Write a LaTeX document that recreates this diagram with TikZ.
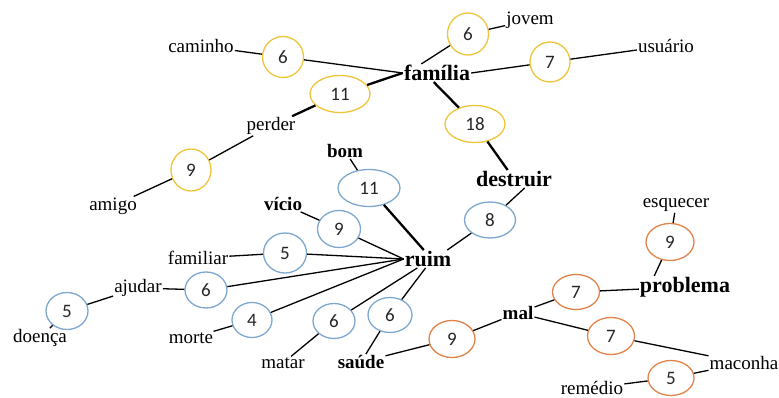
\documentclass[tikz,border=0pt]{standalone}
\usepackage{fontspec}
\setmainfont{Liberation Serif}
\newfontfamily\numfont{Carlito}
\usetikzlibrary{shapes.geometric}
\definecolor{cyel}{HTML}{F0C43A}
\definecolor{cblu}{HTML}{7DA7CF}
\definecolor{corg}{HTML}{E2844A}
\tikzset{
  ov/.style={ellipse, draw, line width=1.3pt, inner sep=0pt, font=\numfont\fontsize{19}{19}\selectfont, text=black!85},
  yov/.style={ov, draw=cyel},
  bov/.style={ov, draw=cblu},
  oov/.style={ov, draw=corg},
  lbl/.style={inner sep=1pt, font=\fontsize{19}{19}\selectfont},
  blbl/.style={inner sep=1pt, font=\bfseries\fontsize{19}{19}\selectfont},
  hlbl/.style={inner sep=1pt, font=\bfseries\fontsize{22}{22}\selectfont},
  ln/.style={line width=1.3pt},
  tk/.style={line width=2.3pt},
}
\begin{document}
\begin{tikzpicture}[x=1pt,y=-1pt]
\useasboundingbox (0,0) rectangle (779,398);
% labels
\node[lbl] (caminho) at (201,46) {caminho};
\node[hlbl] (fam) at (437,73) {família};
\node[lbl] (jovem) at (530,20) {jovem};
\node[lbl] (usuario) at (666,46) {usuário};
\node[lbl] (perder) at (271,126) {perder};
\node[lbl] (amigo) at (113,206) {amigo};
\node[blbl] (bom) at (345,151) {bom};
\node[blbl] (vicio) at (283,204) {vício};
\node[hlbl] (destr) at (514,179) {destruir};
\node[hlbl] (ruim) at (428,259) {ruim};
\node[lbl] (familiar) at (198,258) {familiar};
\node[lbl] (ajudar) at (138,288) {ajudar};
\node[lbl] (doenca) at (40,338) {doença};
\node[lbl] (morte) at (191,338) {morte};
\node[lbl] (matar) at (283,363) {matar};
\node[blbl] (saude) at (361,362) {saúde};
\node[blbl] (mal) at (518,313) {mal};
\node[hlbl] (prob) at (685,287) {problema};
\node[lbl] (esq) at (676,205) {esquecer};
\node[lbl] (macon) at (744,363) {maconha};
\node[lbl] (remed) at (592,388) {remédio};
% yellow ellipses
\node[yov, minimum width=41pt, minimum height=41pt] (y6a) at (283,57) {6};
\node[yov, minimum width=60pt, minimum height=37pt] (y11) at (340,94) {11};
\node[yov, minimum width=41pt, minimum height=42pt] (y6b) at (468,34) {6};
\node[yov, minimum width=40pt, minimum height=40pt] (y7) at (550,62) {7};
\node[yov, minimum width=60pt, minimum height=37pt] (y18) at (475,124) {18};
\node[yov, minimum width=40pt, minimum height=42pt] (y9) at (191,170) {9};
% blue ellipses
\node[bov, minimum width=62pt, minimum height=37pt] (b11) at (369,188) {11};
\node[bov, minimum width=43pt, minimum height=37pt] (b9) at (339,229) {9};
\node[bov, minimum width=43pt, minimum height=40pt] (b5a) at (285,253) {5};
\node[bov, minimum width=42pt, minimum height=36pt] (b6a) at (206,290) {6};
\node[bov, minimum width=42pt, minimum height=37pt] (b5d) at (67,311) {5};
\node[bov, minimum width=40pt, minimum height=35pt] (b4) at (252,320) {4};
\node[bov, minimum width=42pt, minimum height=35pt] (b6m) at (334,321) {6};
\node[bov, minimum width=44pt, minimum height=35pt] (b6s) at (390,315) {6};
\node[bov, minimum width=51pt, minimum height=36pt] (b8) at (490,220) {8};
% orange ellipses
\node[oov, minimum width=46pt, minimum height=37pt] (o9a) at (452,339) {9};
\node[oov, minimum width=47pt, minimum height=35pt] (o7a) at (576,292) {7};
\node[oov, minimum width=48pt, minimum height=37pt] (o9e) at (670,242) {9};
\node[oov, minimum width=47pt, minimum height=37pt] (o7m) at (611,336) {7};
\node[oov, minimum width=46pt, minimum height=35pt] (o5r) at (671,378) {5};
% connectors: família cluster
\draw[ln] (caminho) -- (y6a);
\draw[ln] (y6a) -- (fam.west);
\draw[tk] (y11) -- (fam.west);
\draw[tk] (perder) -- (y11);
\draw[ln] (perder) -- (y9);
\draw[ln] (y9) -- (amigo);
\draw[ln] (fam.150) -- (y6b);
\draw[ln] (y6b) -- (jovem);
\draw[ln] (fam.east) -- (y7);
\draw[ln] (y7) -- (usuario);
\draw[tk] (fam.-110) -- (y18);
\draw[tk] (y18) -- (destr);
% ruim cluster
\draw[ln] (destr.-40) -- (b8);
\draw[ln] (b8) -- (ruim.25);
\draw[ln] (bom) -- (b11);
\draw[tk] (b11) -- (ruim.115);
\draw[ln] (vicio) -- (b9);
\draw[ln] (b9) -- (ruim.west);
\draw[ln] (familiar) -- (b5a);
\draw[ln] (b5a) -- (ruim.west);
\draw[ln] (b6a) -- (ruim.west);
\draw[ln] (ajudar) -- (b6a);
\draw[ln] (ajudar) -- (b5d);
\draw[ln] (b5d) -- (doenca);
\draw[ln] (morte) -- (b4);
\draw[ln] (b4) -- (ruim.west);
\draw[ln] (b6m) -- (ruim.-140);
\draw[ln] (matar) -- (b6m);
\draw[ln] (b6s) -- (ruim.-105);
\draw[ln] (saude) -- (b6s);
% mal / problema cluster
\draw[ln] (saude) -- (o9a);
\draw[ln] (o9a) -- (mal);
\draw[ln] (mal) -- (o7a);
\draw[ln] (o7a) -- (prob);
\draw[ln] (prob.160) -- (o9e);
\draw[ln] (o9e) -- (esq);
\draw[ln] (mal) -- (o7m);
\draw[ln] (o7m) -- (macon);
\draw[ln] (macon) -- (o5r);
\draw[ln] (remed) -- (o5r);
\end{tikzpicture}
\end{document}
